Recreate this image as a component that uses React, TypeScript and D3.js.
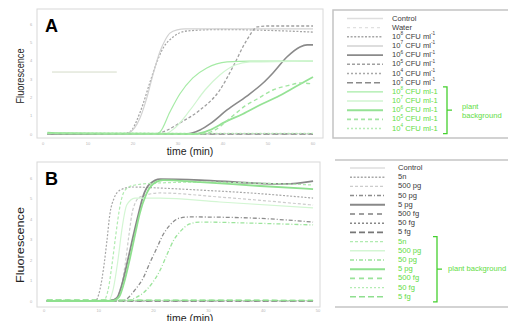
import React from 'react';
import * as d3 from 'd3';

type P = [number, number];

// ---------- axis ticks ----------
const xTicksA = [0, 10, 20, 30, 40, 50, 60];
const xTicksB = [0, 10, 20, 30, 40, 50];
const yTicks = [0, 1, 2, 3, 4, 5, 6];

// ---------- panel A data (time min, fluorescence units) ----------
const A_control: P[] = [[1, 0.02], [60, 0.02]];
const A_water: P[] = [[1, 0.01], [60, 0.01]];
const A_1e8: P[] = [[1, 0], [17.6, 0], [19.3, 0.11], [21.6, 1.2], [23.8, 2.84], [25.3, 3.93], [26.7, 4.69], [28.9, 5.29], [32, 5.62], [39.3, 5.7], [60, 5.56]];
const A_1e7: P[] = [[1, 0], [18, 0], [19.3, 0.1], [20.4, 0.35], [21.6, 0.9], [23.1, 2], [24.4, 3.2], [26, 4.5], [27.1, 5.1], [28.2, 5.5], [29.8, 5.68], [31.6, 5.73], [60, 5.73]];
const A_1e6: P[] = [[1, 0], [31.6, 0], [34.9, 0.22], [37.1, 0.55], [40.9, 1.31], [45.3, 2.07], [48.9, 2.78], [51.1, 3.33], [54.2, 4.2], [57.1, 4.75], [58.7, 4.86], [60, 4.86]];
const A_1e5: P[] = [[1, 0], [24.9, 0], [27.1, 0.16], [30.4, 0.6], [34.9, 1.31], [39.3, 2.4], [42.2, 3.66], [45.3, 5.13], [47.6, 5.84], [49.8, 5.89], [60, 5.89]];
const A_1e4: P[] = [[1, 0.01], [60, 0.01]];
const A_1e3: P[] = [[1, 0], [60, 0]];
const A_p1e8: P[] = [[1, 0.06], [5, 0.03], [24.9, 0], [26, 0.11], [28.2, 1.2], [30.4, 2.18], [33.3, 3.06], [36.4, 3.6], [40.9, 3.93], [46, 3.98], [60, 3.98]];
const A_p1e7: P[] = [[1, 0.04], [27.1, 0], [29.3, 0.33], [32.7, 1.31], [36, 2.4], [39.3, 3.22], [42.7, 3.76], [46, 3.93], [60, 3.98]];
const A_p1e6: P[] = [[1, 0.08], [4, 0.04], [33.8, 0], [37.1, 0.22], [40.4, 0.65], [44.4, 1.09], [48.2, 1.58], [52, 2.02], [56, 2.56], [60, 3.11]];
const A_p1e5: P[] = [[1, 0.03], [34.9, 0], [37.8, 0.16], [41.6, 0.87], [44.9, 1.53], [47.6, 1.91], [51.1, 2.4], [54.9, 2.67], [57.1, 2.78], [60, 2.73]];
const A_p1e4: P[] = [[1, 0.05], [60, 0.03]];
const A_stray: P[] = [[2, 3.38], [16.4, 3.38]];

const labelsA = [
  'Control', 'Water', '10^8 CFU ml^-1', '10^7 CFU ml^-1', '10^6 CFU ml^-1', '10^5 CFU ml^-1',
  '10^4 CFU ml^-1', '10^3 CFU ml^-1', '10^8 CFU ml-1', '10^7 CFU ml-1', '10^6 CFU ml-1',
  '10^5 CFU ml-1', '10^4 CFU ml-1',
];
const seriesA = [A_control, A_water, A_1e8, A_1e7, A_1e6, A_1e5, A_1e4, A_1e3, A_p1e8, A_p1e7, A_p1e6, A_p1e5, A_p1e4];
const plantA = [false, false, false, false, false, false, false, false, true, true, true, true, true];

// ---------- panel B data ----------
const B_control: P[] = [[0.5, 0.02], [49.1, 0.02]];
const B_5n: P[] = [[0.5, 0], [9.3, 0], [10.2, 0.54], [10.95, 1.76], [11.5, 2.98], [12.0, 4.2], [12.8, 5.02], [13.9, 5.41], [16.2, 5.56], [21.2, 5.51], [28.5, 5.41], [37.6, 5.27], [49.1, 5.02]];
const B_500pg: P[] = [[0.5, 0], [12.6, 0], [13.9, 0.54], [14.8, 1.76], [15.5, 3.22], [16.2, 4.44], [17.5, 5.07], [21.2, 5.27], [32.1, 5.07], [49.1, 4.68]];
const B_50pg: P[] = [[0.5, 0], [14.2, 0], [15.1, 0.1], [16.6, 0.54], [18.1, 1.12], [19.3, 1.85], [20.6, 2.59], [21.7, 3.22], [23, 3.71], [24.8, 4.05], [26.6, 4.1], [37.6, 4.05], [49.1, 3.85]];
const B_5pg: P[] = [[0.5, 0], [12.0, 0], [13.3, 0.15], [14.2, 0.78], [15.3, 2.0], [16.2, 3.07], [17.2, 4.2], [18.1, 5.12], [19.3, 5.71], [21.2, 5.95], [28.5, 5.9], [37.6, 5.76], [44, 5.71], [49.1, 5.85]];
const B_500fg: P[] = [[0.5, 0.01], [49.1, 0.01]];
const B_50fg: P[] = [[0.5, 0], [49.1, 0]];
const B_5fg: P[] = [[0.5, 0.01], [49.1, 0.01]];
const B_p5n: P[] = [[0.5, 0], [10.8, 0], [11.7, 0.54], [12.4, 1.76], [13.1, 3.22], [13.9, 4.68], [14.8, 5.41], [16.6, 5.66], [21.2, 5.76], [28.5, 5.8], [37.6, 5.76], [49.1, 5.66]];
const B_p500pg: P[] = [[0.5, 0], [11.7, 0], [12.6, 0.54], [13.5, 2.0], [14.2, 3.46], [15.1, 4.68], [16.6, 5.02], [21.2, 5.02], [32.1, 4.83], [49.1, 4.54]];
const B_p50pg: P[] = [[0.5, 0], [15.3, 0], [16.2, 0.1], [18.1, 0.39], [19.9, 0.93], [21.2, 1.51], [22.4, 2.24], [23.7, 2.98], [24.8, 3.37], [26.6, 3.76], [28.5, 3.85], [37.6, 3.8], [49.1, 3.71]];
const B_p5pg: P[] = [[0.5, 0], [12.4, 0], [13.7, 0.2], [14.6, 0.88], [15.7, 2.1], [16.6, 3.22], [17.5, 4.29], [18.6, 5.17], [19.9, 5.71], [21.7, 5.9], [28.5, 5.8], [39.4, 5.61], [49.1, 5.46]];
const B_p500fg: P[] = [[0.5, 0.03], [49.1, 0.03]];
const B_p50fg: P[] = [[0.5, 0.04], [49.1, 0.02]];
const B_p5fg: P[] = [[0.5, 0.05], [49.1, 0.03]];

const labelsB = ['Control', '5n', '500 pg', '50 pg', '5 pg', '500 fg', '50 fg', '5 fg', '5n', '500 pg', '50 pg', '5 pg', '500 fg', '50 fg', '5 fg'];
const seriesB = [B_control, B_5n, B_500pg, B_50pg, B_5pg, B_500fg, B_50fg, B_5fg, B_p5n, B_p500pg, B_p50pg, B_p5pg, B_p500fg, B_p50fg, B_p5fg];
const plantB = [false, false, false, false, false, false, false, false, true, true, true, true, true, true, true];

// ---------- styles ----------
type St = { c: string; w: number; d?: string };
const stylesA: St[] = [
  { c: '#dedede', w: 1.2 },
  { c: '#e0e0e0', w: 1.2, d: '3,3' },
  { c: '#a6a6a6', w: 1.3, d: '2,1.6' },
  { c: '#d2d2d2', w: 1.2 },
  { c: '#8a8a8a', w: 1.6 },
  { c: '#a0a0a0', w: 1.3, d: '3,2' },
  { c: '#a8a8a8', w: 1.2, d: '2,2' },
  { c: '#8a8a8a', w: 1.4, d: '6,3' },
  { c: '#a6eba6', w: 1.2 },
  { c: '#d0f5d0', w: 1.2 },
  { c: '#95e295', w: 1.8 },
  { c: '#a2e6a2', w: 1.4, d: '4,3' },
  { c: '#b5ecb5', w: 1.2, d: '2,2' },
];
const stylesB: St[] = [
  { c: '#dedede', w: 1.2 },
  { c: '#a8a8a8', w: 1.2, d: '2,1.6' },
  { c: '#cccccc', w: 1.2, d: '3,2' },
  { c: '#8c8c8c', w: 1.3, d: '4,2,1,2' },
  { c: '#888888', w: 1.8 },
  { c: '#808080', w: 1.4, d: '5,4' },
  { c: '#888888', w: 1.2, d: '2,2' },
  { c: '#777777', w: 1.4, d: '6,3' },
  { c: '#b0ebb0', w: 1.2, d: '3,2' },
  { c: '#d3f6d3', w: 1.2 },
  { c: '#9ce49c', w: 1.3, d: '4,2,1,2' },
  { c: '#8ee08e', w: 1.8 },
  { c: '#9ae39a', w: 1.4, d: '5,4' },
  { c: '#b3ecb3', w: 1.2, d: '2,2' },
  { c: '#8fdf8f', w: 1.4, d: '6,3' },
];

const GREEN_TEXT = '#62dc44';
const GRAY_TEXT = '#3a3a3a';
const FONT = '"Liberation Sans", Arial, sans-serif';

function Label({ text, x, y, fill, size }: { text: string; x: number; y: number; fill: string; size: number }) {
  const parts = text.split(/\^(-?\d+)/);
  const out: React.ReactNode[] = [];
  let shifted = false;
  parts.forEach((p, i) => {
    if (p === '') return;
    if (i % 2 === 1) {
      out.push(<tspan key={i} dy={shifted ? 0 : -2.6} fontSize={size * 0.62}>{p}</tspan>);
      shifted = true;
    } else {
      out.push(<tspan key={i} dy={shifted ? 2.6 : 0}>{p}</tspan>);
      shifted = false;
    }
  });
  return (
    <text x={x} y={y} fill={fill} fontSize={size} fontFamily={FONT} dominantBaseline="middle">
      {out}
    </text>
  );
}

function Panel(props: {
  letter: string; box: [number, number, number, number]; xr: [number, number]; yr: [number, number];
  xDomain: [number, number]; xTicks: number[]; series: P[][]; styles: St[]; order: number[];
  tickY: number; titleY: number; ylabelY: number; ylabelLen: number; ylabelSize: number; extra?: P[];
}) {
  const { box, xr, yr } = props;
  const x = d3.scaleLinear().domain(props.xDomain).range(xr);
  const y = d3.scaleLinear().domain([0, 6]).range(yr);
  const line = d3.line<P>().x(d => x(d[0])).y(d => y(d[1])).curve(d3.curveMonotoneX);
  const [bx0, by0, bx1, by1] = box;
  return (
    <g>
      <rect x={bx0} y={by0} width={bx1 - bx0} height={by1 - by0} fill="#fff" stroke="#d8d8d8" strokeWidth={1} />
      {props.extra && <path d={line(props.extra) || ''} fill="none" stroke="#d5dbc8" strokeWidth={1} />}
      {props.order.map(i => {
        const s = props.styles[i];
        return <path key={i} d={line(props.series[i]) || ''} fill="none" stroke={s.c} strokeWidth={s.w} strokeDasharray={s.d} />;
      })}
      {props.xTicks.map(t => (
        <text key={'x' + t} x={x(t)} y={props.tickY} fontSize={4} fill="#b5b5b5" textAnchor="middle" fontFamily={FONT}>{t}</text>
      ))}
      {yTicks.map(t => (
        <text key={'y' + t} x={31} y={y(t) + 1.5} fontSize={4} fill="#b5b5b5" textAnchor="middle" fontFamily={FONT}>{t}</text>
      ))}
      <text x={bx0 + 8} y={by0 + 23} fontSize={18} fontWeight="bold" fontFamily={FONT} fill="#000">{props.letter}</text>
      <text x={190} y={props.titleY} fontSize={10.5} textAnchor="middle" fontFamily={FONT} fill="#222">time (min)</text>
      <text transform={`translate(24,${props.ylabelY}) rotate(-90)`} fontSize={props.ylabelSize} textAnchor="middle"
        fontFamily={FONT} fill="#222" textLength={props.ylabelLen} lengthAdjust="spacingAndGlyphs">Fluorescence</text>
    </g>
  );
}

function Legend(props: {
  labels: string[]; styles: St[]; plant: boolean[]; y0: number; step: number; sx0: number; sx1: number; tx: number;
  bracketX: number; plantText: string[]; textX: number; textY: number[];
}) {
  const rows = props.labels.map((l, i) => ({ l, i, yy: props.y0 + i * props.step }));
  const plantRows = rows.filter(r => props.plant[r.i]);
  const top = plantRows[0].yy - 5;
  const bot = plantRows[plantRows.length - 1].yy + 5;
  const mid = (top + bot) / 2;
  const bx = props.bracketX;
  return (
    <g>
      {rows.map(r => {
        const s = props.styles[r.i];
        return (
          <g key={r.i}>
            <line x1={props.sx0} x2={props.sx1} y1={r.yy} y2={r.yy} stroke={s.c} strokeWidth={s.w + 0.2} strokeDasharray={s.d} />
            <Label text={r.l} x={props.tx} y={r.yy} fill={props.plant[r.i] ? GREEN_TEXT : GRAY_TEXT} size={7.6} />
          </g>
        );
      })}
      <path d={`M${bx - 4},${top} H${bx} V${bot} H${bx - 4} M${bx},${mid} H${bx + 5}`} fill="none" stroke="#45d02f" strokeWidth={1.3} />
      {props.plantText.map((t, i) => (
        <text key={t} x={props.textX} y={props.textY[i]} fontSize={7.6} fill={GREEN_TEXT} fontFamily={FONT} dominantBaseline="middle">{t}</text>
      ))}
    </g>
  );
}

export default function App() {
  const flatFirst = (arr: P[][]) => {
    const idx = arr.map((_, i) => i);
    const isFlat = (s: P[]) => s.length <= 2;
    return [...idx.filter(i => isFlat(arr[i])), ...idx.filter(i => !isFlat(arr[i]))];
  };
  return (
    <svg width={508} height={321} style={{ position: 'absolute', left: 0, top: 0, background: '#fff' }}>
      <rect x={0} y={0} width={508} height={321} fill="#fff" />
      <Panel letter="A" box={[37, 9, 323, 138]} xr={[43, 313]} yr={[134, 24]} xDomain={[0, 60]} xTicks={xTicksA}
        series={seriesA} styles={stylesA} order={flatFirst(seriesA)} tickY={145} titleY={155}
        ylabelY={76} ylabelLen={55} ylabelSize={10} extra={A_stray} />
      <Panel letter="B" box={[37, 162, 320, 307]} xr={[44, 318]} yr={[301, 178]} xDomain={[0, 50]} xTicks={xTicksB}
        series={seriesB} styles={stylesB} order={flatFirst(seriesB)} tickY={312} titleY={322}
        ylabelY={245} ylabelLen={76} ylabelSize={11} />
      {/* legend A frame */}
      <path d="M512,10 H333 V138 H512" fill="none" stroke="#c4c4c4" strokeWidth={1.5} />
      <Legend labels={labelsA} styles={stylesA} plant={plantA} y0={18.5} step={9.17} sx0={347} sx1={383} tx={392}
        bracketX={447} plantText={['plant', 'background']} textX={462} textY={[107, 116]} />
      {/* legend B frame */}
      <line x1={335} x2={508} y1={160} y2={160} stroke="#c4c4c4" strokeWidth={1.5} />
      <line x1={335} x2={508} y1={307} y2={307} stroke="#c4c4c4" strokeWidth={1.5} />
      <Legend labels={labelsB} styles={stylesB} plant={plantB} y0={168} step={9.2} sx0={350} sx1={385} tx={398}
        bracketX={437} plantText={['plant background']} textX={448} textY={[269]} />
    </svg>
  );
}
